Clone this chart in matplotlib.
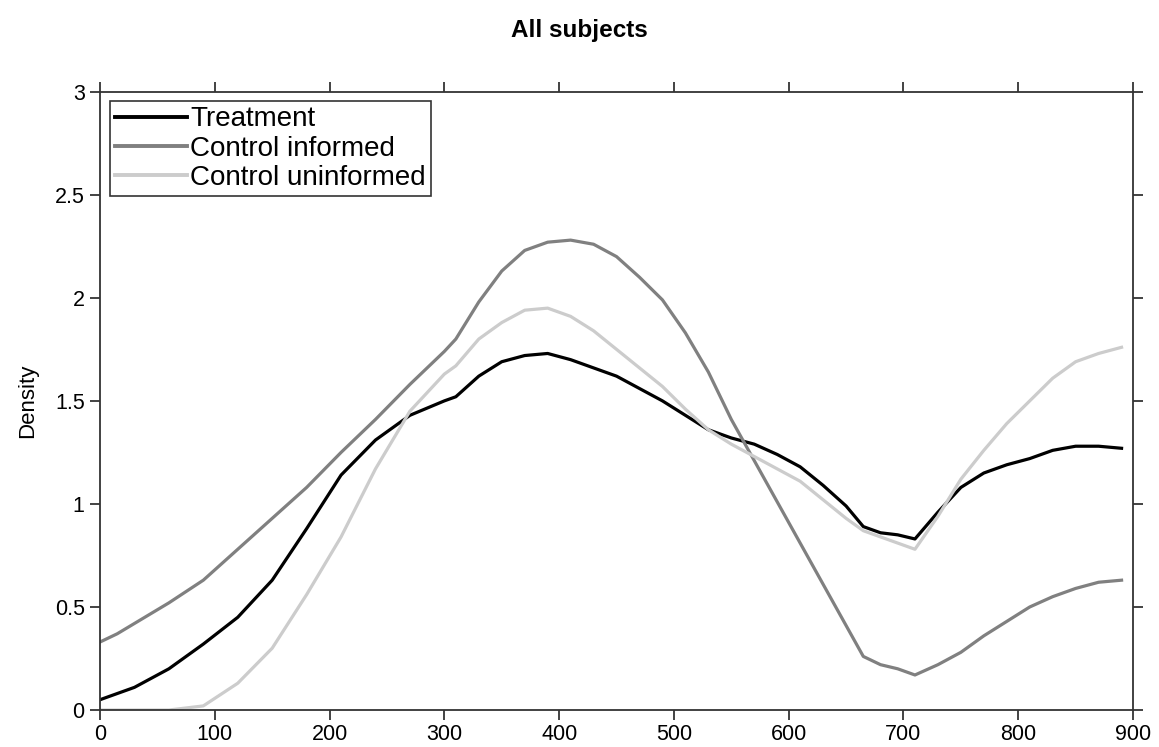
import matplotlib
matplotlib.use("Agg")
import matplotlib.pyplot as plt

plt.rcParams['font.family'] = ['Liberation Sans', 'DejaVu Sans']

# common grid of x positions
x = [0, 15, 30, 60, 90, 120, 150, 180, 210, 240, 270, 300, 310, 330, 350, 370,
     390, 410, 430, 450, 470, 490, 510, 530, 550, 570, 590, 610, 630, 650, 665,
     680, 695, 710, 730, 750, 770, 790, 810, 830, 850, 870, 890]

treatment = [0.05, 0.08, 0.11, 0.20, 0.32, 0.45, 0.63, 0.88, 1.14, 1.31, 1.43,
             1.50, 1.52, 1.62, 1.69, 1.72, 1.73, 1.70, 1.66, 1.62, 1.56, 1.50,
             1.43, 1.36, 1.32, 1.29, 1.24, 1.18, 1.09, 0.99, 0.89, 0.86, 0.85,
             0.83, 0.96, 1.08, 1.15, 1.19, 1.22, 1.26, 1.28, 1.28, 1.27]

control_informed = [0.33, 0.37, 0.42, 0.52, 0.63, 0.78, 0.93, 1.08, 1.25, 1.41,
                    1.58, 1.74, 1.80, 1.98, 2.13, 2.23, 2.27, 2.28, 2.26, 2.20,
                    2.10, 1.99, 1.83, 1.64, 1.41, 1.21, 1.01, 0.81, 0.61, 0.41,
                    0.26, 0.22, 0.20, 0.17, 0.22, 0.28, 0.36, 0.43, 0.50, 0.55,
                    0.59, 0.62, 0.63]

control_uninformed = [0.0, 0.0, 0.0, 0.0, 0.02, 0.13, 0.30, 0.56, 0.84, 1.17,
                      1.45, 1.63, 1.67, 1.80, 1.88, 1.94, 1.95, 1.91, 1.84, 1.75,
                      1.66, 1.57, 1.46, 1.36, 1.29, 1.23, 1.17, 1.11, 1.02, 0.93,
                      0.87, 0.84, 0.81, 0.78, 0.94, 1.12, 1.26, 1.39, 1.50, 1.61,
                      1.69, 1.73, 1.76]

xticks = [0, 100, 200, 300, 400, 500, 600, 700, 800, 900]
yticks = [0, 0.5, 1, 1.5, 2, 2.5, 3]
ytick_labels = ['0', '0.5', '1', '1.5', '2', '2.5', '3']

fig = plt.figure(figsize=(11.59, 7.47), dpi=100)
ax = fig.add_axes([0.0863, 0.0495, 0.8913, 0.8277])

ax.plot(x, treatment, color='black', lw=2.3, label='Treatment')
ax.plot(x, control_informed, color='#808080', lw=2.3, label='Control informed')
ax.plot(x, control_uninformed, color='#cccccc', lw=2.3, label='Control uninformed')

ax.set_xlim(0, 900)
ax.set_ylim(0, 3)
ax.set_xticks(xticks)
ax.set_yticks(yticks)
ax.set_yticklabels(ytick_labels)
ax.tick_params(direction='out', length=7, width=1.2, labelsize=15.5, pad=4,
               top=True, right=True, colors='#222222', labelcolor='black')
ax.tick_params(axis='x', pad=3)
for s in ax.spines.values():
    s.set_linewidth(1.3)
    s.set_color('#333333')

ax.set_ylabel('Density', fontsize=16, labelpad=12)
fig.suptitle('All subjects', fontsize=17.5, fontweight='bold', y=0.975)

leg = ax.legend(loc='upper left', bbox_to_anchor=(0.0, 1.0), fontsize=20,
                frameon=True, fancybox=False, edgecolor='black',
                handlelength=2.6, handletextpad=0.12, labelspacing=0.12,
                borderpad=0.18, borderaxespad=0.35)
leg.get_frame().set_linewidth(1.2)
for line in leg.get_lines():
    line.set_linewidth(2.8)

fig.savefig('out.png', dpi=100)
